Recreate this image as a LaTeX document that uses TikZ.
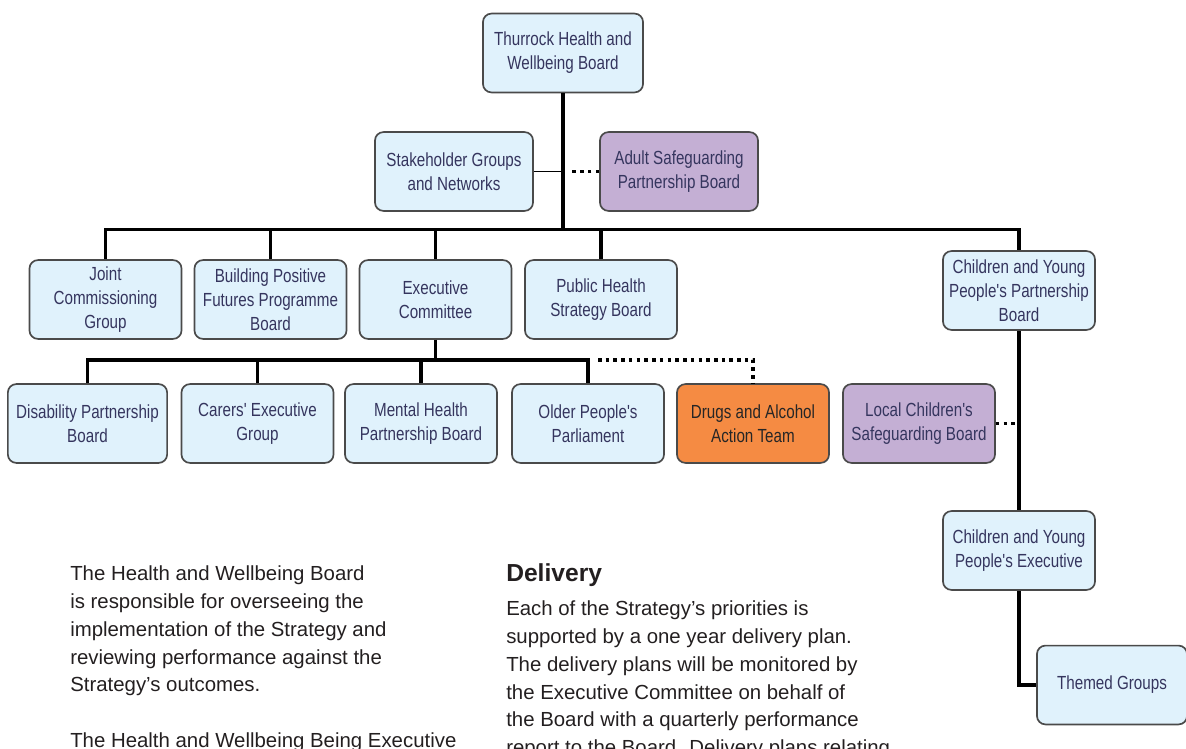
\documentclass[tikz,border=0pt]{standalone}
\usepackage{fontspec}
\setmainfont{Liberation Sans}
\newfontfamily\narrowfont[FakeStretch=0.8]{Liberation Sans}
\definecolor{boxBlue}{HTML}{E0F2FC}
\definecolor{boxPurple}{HTML}{C4AFD4}
\definecolor{boxOrange}{HTML}{F58B43}
\definecolor{boxLine}{HTML}{4A4A4A}
\definecolor{boxText}{HTML}{35355E}
\definecolor{bodyText}{HTML}{231F20}
\usetikzlibrary{positioning,calc}

\begin{document}
\begin{tikzpicture}[
    x=0.025cm, y=-0.025cm,
    box/.style={draw=boxLine, line width=1.2pt, rounded corners=6pt, fill=boxBlue,
                minimum width=3.8cm, minimum height=1.97cm, inner sep=2pt,
                font=\narrowfont\fontsize{13.5}{17}\selectfont, text=boxText, align=center},
    tree/.style={line width=2.5pt, black},
    link/.style={line width=1.2pt, black},
    dots/.style={line width=2.5pt, black, dash pattern=on 2.5pt off 3pt},
    body/.style={font=\fontsize{14.5}{19.9}\selectfont, text=bodyText, align=left,
                 anchor=north west, inner sep=0pt}
  ]
    \useasboundingbox (0,0) rectangle (1186,749);
    \clip (0,0) rectangle (1186,749);

    % Board and first level
    \node[box, minimum width=4cm] (thurrock) at (563,53) {Thurrock Health and\\Wellbeing Board};
    \node[box, minimum width=3.95cm] (stake) at (454,171.5) {Stakeholder Groups\\and Networks};
    \node[box, minimum width=3.95cm, fill=boxPurple] (adult) at (679,171.5)
      {Adult Safeguarding\\Partnership Board};

    \node[box] (joint) at (105.5,299.5) {Joint\\Commissioning\\Group};
    \node[box] (building) at (270.5,299.5) {Building Positive\\Futures Programme\\Board};
    \node[box] (exec) at (435.5,299.5) {Executive\\Committee};
    \node[box] (public) at (601,299.5) {Public Health\\Strategy Board};
    \node[box] (cyppb) at (1019,290.5) {Children and Young\\People's Partnership\\Board};

    % Executive Committee groups
    \node[box, minimum width=3.98cm] (disab) at (87.5,423.5) {Disability Partnership\\Board};
    \node[box] (carers) at (257.5,423.5) {Carers' Executive\\Group};
    \node[box] (mental) at (421,423.5) {Mental Health\\Partnership Board};
    \node[box] (older) at (588,423.5) {Older People's\\Parliament};
    \node[box, fill=boxOrange, text=black!85] (drugs) at (753,423.5) {Drugs and Alcohol\\Action Team};
    \node[box, fill=boxPurple] (local) at (919,423.5) {Local Children's\\Safeguarding Board};

    % Children and young people branch
    \node[box] (cypexec) at (1019,550.5) {Children and Young\\People's Executive};
    \node[box, minimum width=3.75cm] (themed) at (1112,685) {Themed Groups};

    \coordinate (bus) at (563,229.5);
    \coordinate (bus2) at (438,360);

    \draw[tree] (thurrock.south) -- (bus);
    \draw[link] (stake.east) -- (stake.east -| thurrock.south);
    \draw[dots] (adult.west) -- ($(adult.west -| thurrock.south)+(6,0)$);
    \draw[tree] (joint.north) |- (bus) -| (cyppb.north);
    \draw[tree] (building.north) -- (building.north |- bus);
    \draw[tree] (exec.north) -- (exec.north |- bus);
    \draw[tree] (public.north) -- (public.north |- bus);

    \draw[tree] (exec.south) -- (exec.south |- bus2);
    \draw[tree] (disab.north) |- (bus2) -| (older.north);
    \draw[tree] (carers.north) -- (carers.north |- bus2);
    \draw[tree] (mental.north) -- (mental.north |- bus2);
    \draw[dots] ($(older.north |- bus2)+(10,0)$) -| (drugs.north);

    \draw[tree] (cyppb.south) -- (cypexec.north);
    \draw[dots] (local.east) -- (local.east -| cyppb.south);
    \draw[tree] (cypexec.south) |- (themed.west);

    % Text below the chart
    \node[body] (hwbText) at (70,565)
      {The Health and Wellbeing Board\\
       is responsible for overseeing the\\
       implementation of the Strategy and\\
       reviewing performance against the\\
       Strategy's outcomes.\\[19.9pt]
       The Health and Wellbeing Being Executive};
    \node[body, font=\bfseries\fontsize{17.5}{22}\selectfont] (delivHead) at (506,563) {Delivery};
    \node[body] (delivText) at (506,600)
      {Each of the Strategy's priorities is\\
       supported by a one year delivery plan.\\
       The delivery plans will be monitored by\\
       the Executive Committee on behalf of\\
       the Board with a quarterly performance\\
       report to the Board. Delivery plans relating};
\end{tikzpicture}
\end{document}
